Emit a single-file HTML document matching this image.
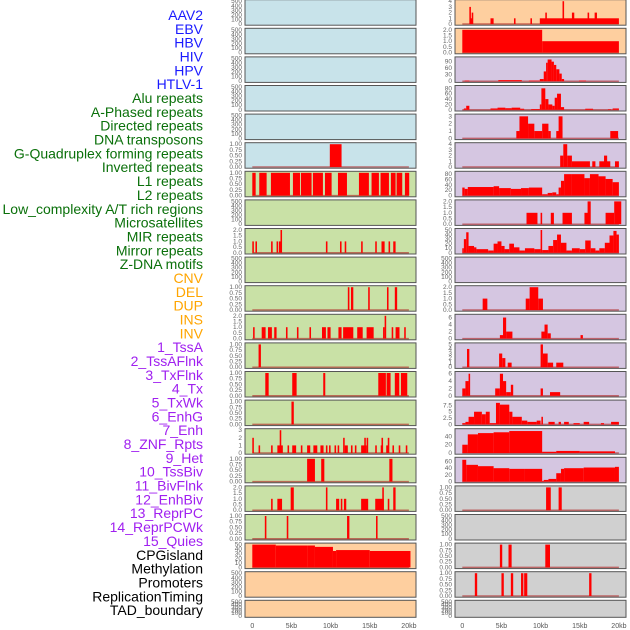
<!DOCTYPE html>
<html><head><meta charset="utf-8"><style>
body{margin:0;background:#fff}
svg{display:block;font-family:"Liberation Sans",sans-serif}
</style></head><body>
<svg id="chart" width="630" height="630" viewBox="0 0 630 630" xmlns="http://www.w3.org/2000/svg">
<g id="labels"></g>
<g id="panels"></g>
<g id="xaxis"></g>
</svg>
<script>
const labelNames = ["AAV2","EBV","HBV","HIV","HPV","HTLV-1","Alu repeats","A-Phased repeats","Directed repeats","DNA transposons","G-Quadruplex forming repeats","Inverted repeats","L1 repeats","L2 repeats","Low_complexity A/T rich regions","Microsatellites","MIR repeats","Mirror repeats","Z-DNA motifs","CNV","DEL","DUP","INS","INV","1_TssA","2_TssAFlnk","3_TxFlnk","4_Tx","5_TxWk","6_EnhG","7_Enh","8_ZNF_Rpts","9_Het","10_TssBiv","11_BivFlnk","12_EnhBiv","13_ReprPC","14_ReprPCWk","15_Quies","CPGisland","Methylation","Promoters","ReplicationTiming","TAD_boundary"];
const labelGroups = [0,0,0,0,0,0,1,1,1,1,1,1,1,1,1,1,1,1,1,2,2,2,2,2,3,3,3,3,3,3,3,3,3,3,3,3,3,3,3,4,4,4,4,4];
const groupColors = ["#1a1aff","#0a700a","#ffa500","#a020f0","#000000"];
const xTickValues = [0,5,10,15,20];
const xTickLabels = ["0","5kb","10kb","15kb","20kb"];
const E = [0,100,200,300,400,500];
const T1 = [0,0.25,0.5,0.75,1];
const T2 = [0,0.5,1,1.5,2];
const leftBg = ["#c8e3ea","#c8e3ea","#c8e3ea","#c8e3ea","#c8e3ea","#c8e3ea","#c9e1a6","#c9e1a6","#c9e1a6","#c9e1a6","#c9e1a6","#c9e1a6","#c9e1a6","#c9e1a6","#c9e1a6","#c9e1a6","#c9e1a6","#c9e1a6","#c9e1a6","#fecf9f","#fecf9f","#fecf9f"];
const rightBg = ["#fecf9f","#fecf9f","#d5c6e1","#d5c6e1","#d5c6e1","#d5c6e1","#d5c6e1","#d5c6e1","#d5c6e1","#d5c6e1","#d5c6e1","#d5c6e1","#d5c6e1","#d5c6e1","#d5c6e1","#d5c6e1","#d5c6e1","#d0d0d0","#d0d0d0","#d0d0d0","#d0d0d0","#d0d0d0"];
const leftTicks = [E,E,E,E,E,T1,T1,E,T2,E,T1,T2,T1,T1,T1,[0,1,2,3],T1,T2,T1,[0,10,20,30,40,50],E,E];
const rightTicks = [[0,1,2,3,4],T2,[0,30,60,90],[0,20,40,60,80],[0,1,2,3],[0,1,2,3,4],[0,20,40,60,80],T2,[0,10,20,30,40,50],E,T2,[0,2,4,6],[0,1,2,3,4,5],[0,2,4,6],[0,2.5,5,7.5],[0,20,40],[0,20,40,60],T1,E,T1,T1,E];
const rightTickMax = [4,2,105,85,3.1,4,85,2,50,500,2,6.5,5,6.2,9,55,68,1,500,1,1,500];
const leftBars = [
 [],[],[],[],[],
 [[9.9,11.4,1]],
 [[0,0.43,1],[0.89,1.83,1],[2.38,4.81,1],[5.19,6.09,1],[6.21,7.57,1],[7.74,9.02,1],[9.28,10.13,1],[10.94,12.09,1],[13.62,14.89,1],[15.23,16.17,1],[16.38,17.45,1],[17.7,18.3,1],[18.43,19.15,1],[19.49,20.04,1]],
 [],
 [[0,0.2,1],[0.4,0.6,1],[2.4,2.6,1],[3.1,3.3,1],[3.4,3.6,1],[3.6,3.8,2],[9.4,9.6,1],[11.2,11.4,1],[11.8,12.0,1],[13.9,14.1,1],[15.7,15.9,1],[16.5,16.9,1],[17.4,17.6,1],[18.0,18.3,1]],
 [],
 [[12.2,12.4,1],[12.6,12.9,1],[14.8,15.0,1],[17.2,17.4,1],[18.2,18.5,1]],
 [[0.1,0.3,1],[1.2,1.7,1],[2.0,2.5,1],[2.8,3.1,1],[4.3,4.5,1],[5.7,5.9,1],[7.3,7.5,1],[8.9,9.4,1],[9.6,10.0,1],[11.0,11.4,1],[11.6,12.9,1],[13.4,14.1,1],[14.6,15.5,1],[16.7,16.9,1],[16.9,17.1,2],[17.8,18.0,1],[18.3,18.8,1],[19.4,19.6,1]],
 [[0.8,1.1,1]],
 [[1.66,2.09,1],[5.1,5.66,1],[9.06,9.32,1],[16.09,17.06,1],[17.15,17.66,1],[18.2,18.77,1],[18.98,19.79,1]],
 [[5.0,5.3,1]],
 [[0,0.2,2],[0.8,1.0,1],[2.4,2.6,1],[3.2,3.9,1],[3.5,3.7,3],[4.5,4.7,1],[5.1,5.6,1],[6.2,6.4,1],[7.0,7.4,1],[7.8,8.3,1],[8.7,9.1,1],[9.4,9.6,1],[9.8,10.0,1],[10.5,10.7,1],[10.9,11.1,1],[11.6,11.8,2],[11.8,12.2,1],[12.6,12.8,1],[13.1,13.3,1],[13.9,14.6,1],[14.3,14.5,2],[14.6,14.8,2],[15.7,15.9,1],[16.4,16.7,1],[16.5,16.7,2],[17.1,17.4,1],[17.3,17.5,2],[17.9,18.1,1],[18.7,18.9,1],[19.6,19.8,1]],
 [[7.0,8.0,1],[8.8,9.2,1],[17.5,17.9,1]],
 [[2.4,2.6,1],[3.2,3.8,1],[4.9,5.3,2],[9.4,9.6,2],[10.7,11.1,1],[11.3,11.5,1],[11.7,12.0,1],[13.9,14.8,1],[15.7,16.8,1],[16.6,16.8,2],[17.3,17.5,1],[18.0,18.3,2]],
 [[1.6,1.8,1],[4.4,4.6,1],[12.1,12.4,1],[15.8,16.0,1]],
 [[0,3,50],[3,7,48],[7,8,48],[8,10.3,45],[10.3,10.7,36],[10.7,15,38],[15,20.2,36]],
 [],[]
];
const rightBars = [
 [[0.9,1.1,3],[1.2,1.4,2],[1,1.3,1],[3.6,4.0,1],[6.6,6.8,1],[8.7,8.9,1],[9.9,20,1],[10.6,10.8,2],[12.8,13.0,4],[14.0,14.3,2],[16.0,16.2,2],[16.9,17.2,2]],
 [[0,10.2,2],[10.2,20,1]],
 [[0.3,0.9,3],[4.6,7.6,5],[8.5,9.9,3],[9.9,10.4,10],[10.4,10.7,45],[10.7,10.9,85],[10.9,11.4,100],[11.4,11.7,90],[11.7,12.0,75],[12.0,12.4,55],[12.4,12.7,35],[12.7,13.0,10],[14.9,15.8,3]],
 [[0.2,0.5,5],[0.5,0.9,15],[3.6,4.5,5],[4.5,5.5,8],[5.5,6.3,6],[6.3,7.4,8],[7.4,7.9,4],[8.8,9.9,3],[9.9,10.1,20],[10.1,10.6,80],[10.6,11.0,40],[11.0,11.5,20],[11.5,11.8,15],[11.8,12.1,45],[12.1,12.6,60],[12.6,13.0,10],[15.7,16.7,4],[18.6,19.0,2],[19.2,20,5]],
 [[6.9,7.3,1],[7.3,8.4,3],[8.4,9.2,2],[9.2,10.2,1],[10.2,11.0,2],[11.0,11.3,1],[12.0,12.8,1],[12.3,12.8,3],[18.9,19.9,1]],
 [[12.5,12.9,2],[12.9,13.4,4],[13.4,14.0,2],[14.0,16.3,1],[16.6,17.0,1],[17.5,18.9,1],[18.1,18.5,2],[19.5,20,1]],
 [[0,0.3,30],[0.3,0.7,25],[0.7,4.0,32],[4.0,4.7,35],[4.7,6.2,28],[6.2,7.5,25],[7.5,8.5,28],[8.5,10.2,30],[10.2,10.9,5],[10.9,11.5,10],[11.5,12.0,12],[12.0,12.3,5],[12.3,12.6,30],[12.6,13.0,55],[13.0,14.0,80],[14.0,15.6,80],[15.6,16.3,65],[16.3,17.4,80],[17.4,18.3,72],[18.3,19.2,62],[19.2,20,50]],
 [[8.2,9.6,1],[10.0,10.2,1],[11.3,11.7,1],[12.8,14.0,1],[15.6,16.3,1],[16.0,16.4,2],[18.3,19.4,1],[19.4,20.3,2]],
 [[0,0.2,10],[0.2,0.5,30],[0.5,0.8,45],[0.8,1.5,15],[1.5,1.8,12],[1.8,3.3,8],[3.3,4.0,5],[4.0,4.5,20],[4.5,5.0,25],[5.0,5.4,15],[5.4,6.0,8],[6.0,6.6,20],[6.6,7.3,12],[7.3,8.0,5],[8.0,9.2,10],[9.2,10.0,8],[10.0,10.2,50],[10.2,11.0,6],[11.0,11.6,15],[11.6,12.1,28],[12.1,12.6,40],[12.6,13.3,22],[13.3,14.0,5],[14.0,15.0,10],[15.0,15.7,8],[15.7,16.4,27],[16.4,17.0,10],[17.0,17.5,5],[17.5,18.2,10],[18.2,18.8,22],[18.8,19.3,38],[19.3,19.7,48],[19.7,20,40]],
 [],
 [[2.6,3.2,1],[8.1,8.6,1],[8.6,9.7,2],[9.7,10.3,1]],
 [[4.8,5.2,1],[5.2,5.6,6],[5.6,6.4,2],[10.1,10.5,2],[10.5,10.9,4],[10.9,11.3,1.5],[15.1,15.4,1]],
 [[0.6,0.9,4],[4.7,5.1,3],[5.1,5.5,2],[5.8,6.3,1],[10.0,10.3,5],[10.3,10.9,3],[10.9,11.6,1],[12.0,12.9,1]],
 [[0,0.4,2],[0.4,0.8,4],[0.8,1.0,6],[4.2,4.8,2],[4.8,5.2,6],[5.2,5.6,4],[5.6,6.2,1],[6.2,6.5,3],[10.0,10.3,2],[11.2,12.5,1]],
 [[0,0.4,0.5],[0.4,0.8,1],[0.8,1.5,3],[1.5,2.5,5],[2.5,3.0,4],[3.0,3.5,5],[3.5,4.3,0.5],[4.3,4.8,8.5],[4.8,6.0,7.8],[6.0,6.4,5],[6.4,7.6,3],[7.6,8.3,1.5],[8.3,9.5,1],[9.5,10.0,1.5],[10.1,10.3,3],[11.0,11.8,1],[12.3,12.6,1],[13.0,13.6,1],[14.2,15.0,0.5],[15.5,16.2,1],[17.7,18.1,0.5],[19.0,20,1]],
 [[0,0.7,20],[0.7,2,45],[2,4,48],[4,6,50],[6,10.2,53],[10.2,12,3],[12,15,5],[15,19.5,4]],
 [[0,0.5,65],[0.5,2,50],[2,4,46],[4,6,40],[6,8,38],[8,10.2,38],[10.2,10.4,2],[10.4,11,5],[11,12,8],[12,12.6,25],[12.6,13,38],[13,15.5,40],[15.5,19.5,42],[19.5,20,44]],
 [[10.7,11.3,1],[12.3,12.7,1]],
 [],
 [[4.8,5.1,1],[5.9,6.3,1],[10.6,11.2,1]],
 [[1.6,1.9,1],[5.0,5.3,1],[6.2,6.5,1],[7.5,7.8,1],[7.9,8.3,1],[16.2,16.5,1]],
 []
];
const leftTickMax = [500,500,500,500,500,1,1,500,2,500,1,2,1,1,1,3,1,2,1,50,500,500];

const NS = "http://www.w3.org/2000/svg";
function mk(tag, attrs, parent){const e=document.createElementNS(NS,tag);for(const k in attrs)e.setAttribute(k,attrs[k]);parent.appendChild(e);return e;}
const labelsG = document.getElementById('labels');
labelNames.forEach((n,i)=>{
  const t = mk('text',{x:203,y:20+i*13.84,'text-anchor':'end','font-size':'14',fill:groupColors[labelGroups[i]]},labelsG);
  t.textContent = n;
  
  
});
const panelsG = document.getElementById('panels');
function rowTop(i){return i*28.6 - 0.3;}
function rowH(i){return i===21 ? 17 : 25.5;}
function drawPanel(side, i){
  const px = side==='left' ? 245 : 455;
  const w = 171;
  const top = rowTop(i), h = rowH(i);
  const bg = side==='left' ? leftBg[i] : rightBg[i];
  const ticks = side==='left' ? leftTicks[i] : rightTicks[i];
  const maxV = side==='left' ? leftTickMax[i] : rightTickMax[i];
  const bars = side==='left' ? leftBars[i] : rightBars[i];
  const g = mk('g',{},panelsG);
  
  
  mk('rect',{x:px,y:top,width:w,height:h,fill:bg},g);
  const xmap = kb => px + 7.3 + kb*7.83;
  const y0 = top + h - 1.2, y1 = top + 1.5;
  const ymap = v => y0 - (v/maxV)*(y0-y1);
  ticks.forEach(t=>{
    const tl = mk('text',{x:px-3,y:ymap(t)+2,'text-anchor':'end','font-size':'6.5',fill:'#666'},g);
    tl.textContent = (maxV===1 ? t.toFixed(2) : (ticks===T2 ? t.toFixed(1) : String(t)));
    
    
  });
  if(bars.length){
    mk('line',{x1:xmap(0),x2:xmap(20),y1:y0,y2:y0,stroke:'#b02020','stroke-width':1.5,opacity:0.6},g);
  }
  bars.forEach(b=>{
    const r = mk('rect',{x:xmap(b[0]),y:ymap(b[2]),width:Math.max(1,xmap(b[1])-xmap(b[0])),height:y0-ymap(b[2]),fill:'#ff0000'},g);
    
    
  });
  mk('rect',{x:px,y:top,width:w,height:h,fill:'none',stroke:'#555','stroke-width':1},g);
}
for(let i=0;i<22;i++){drawPanel('left',i);drawPanel('right',i);}
const xg = document.getElementById('xaxis');
[245,455].forEach(px=>{
  xTickValues.forEach((v,j)=>{
    const t = mk('text',{x:px+7.3+v*7.83,y:628,'text-anchor':'middle','font-size':'7',fill:'#555'},xg);
    t.textContent = xTickLabels[j];
    
    
  });
});
</script>
</body></html>
